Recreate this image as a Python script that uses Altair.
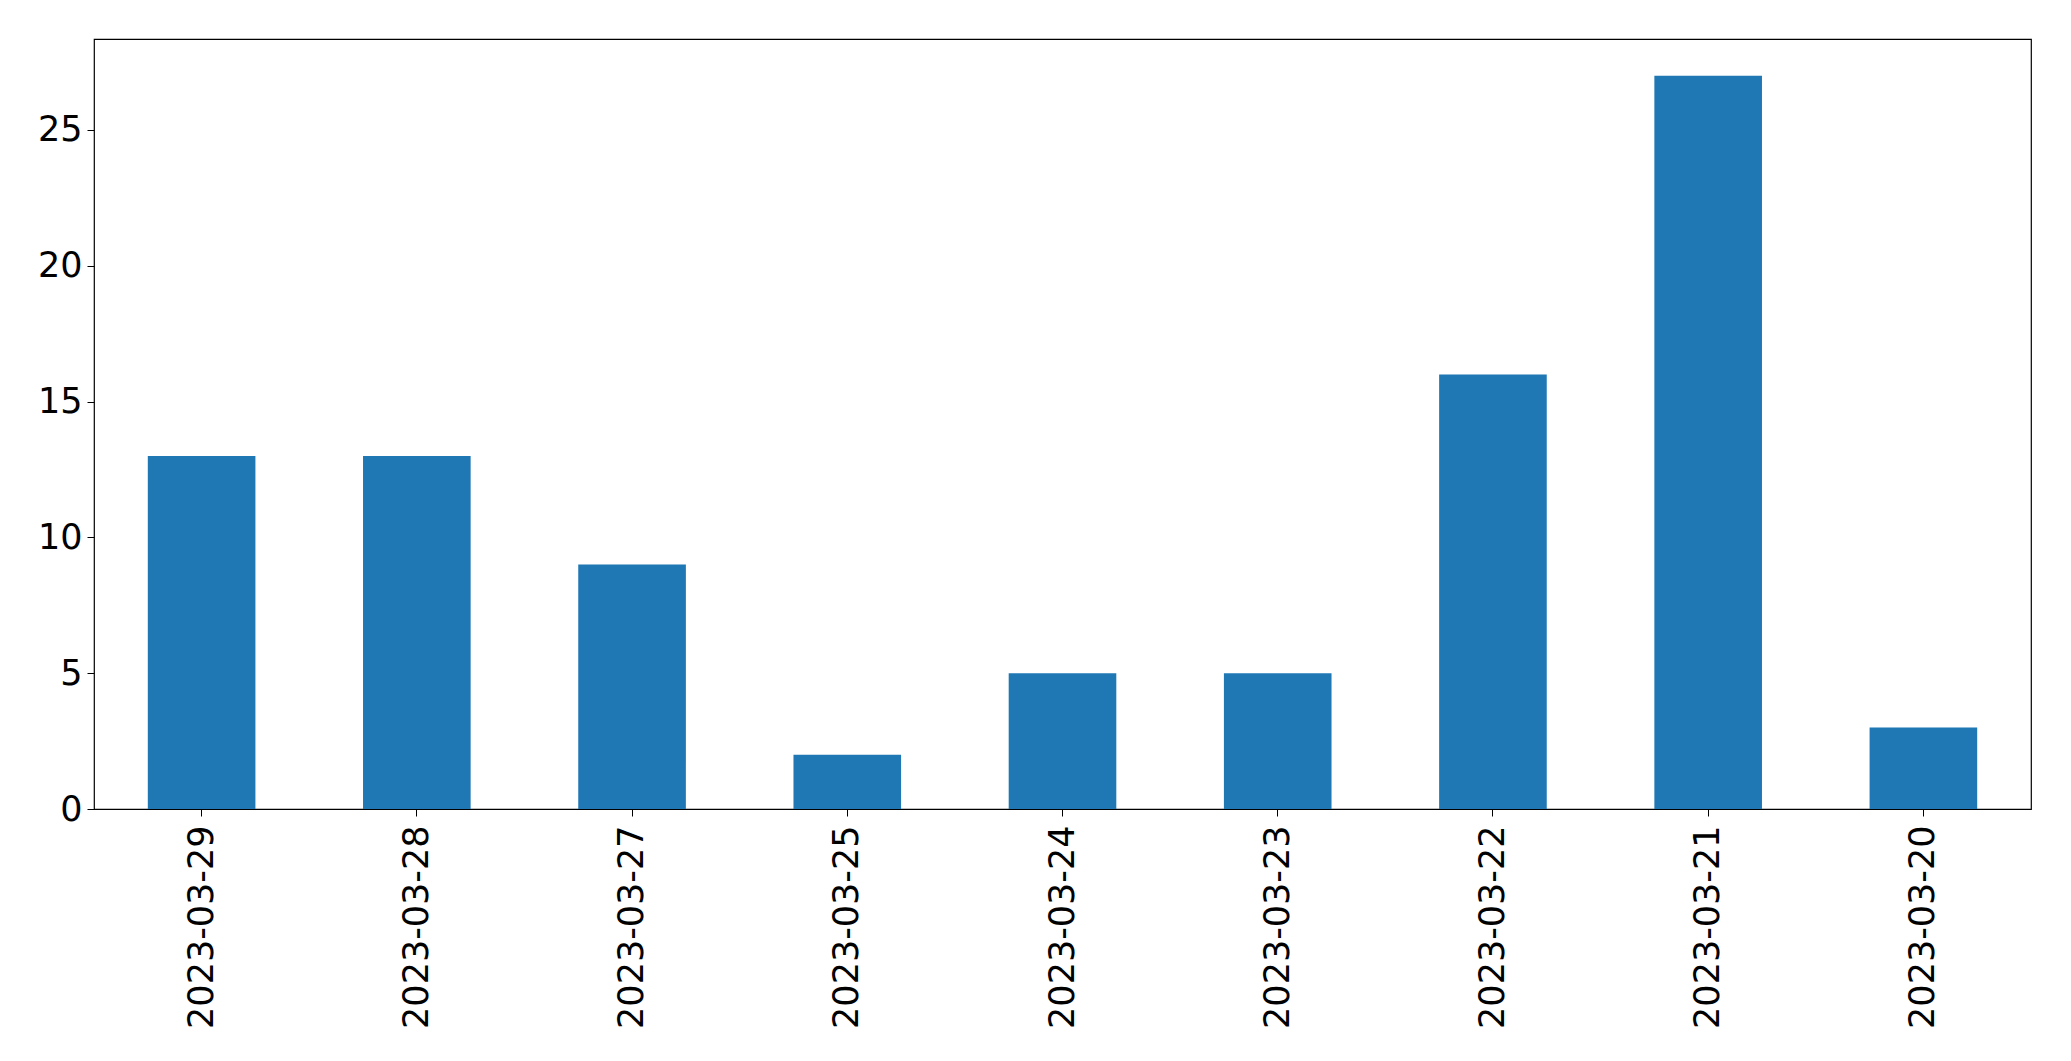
import altair as alt
import pandas as pd

dates = ["2023-03-29", "2023-03-28", "2023-03-27", "2023-03-25", "2023-03-24",
         "2023-03-23", "2023-03-22", "2023-03-21", "2023-03-20"]
counts = [13, 13, 9, 2, 5, 5, 16, 27, 3]
y_ticks = [0, 5, 10, 15, 20, 25]

df = pd.DataFrame({"date": dates, "count": counts})

FONT = "DejaVu Sans"
FS = 35

chart = alt.Chart(df).mark_bar(color="#1f77b4").encode(
    x=alt.X("date:N", sort=dates, title=None,
            scale=alt.Scale(paddingInner=0.5, paddingOuter=0.25),
            axis=alt.Axis(labelAngle=-90, labelFontSize=FS, labelFont=FONT,
                          labelColor="black", tickColor="black", tickSize=7,
                          tickWidth=1, labelPadding=9, labelLimit=0,
                          domain=False, grid=False)),
    y=alt.Y("count:Q", title=None,
            scale=alt.Scale(domain=[0, 28.35], nice=False, zero=True),
            axis=alt.Axis(values=y_ticks, labelFontSize=FS, labelFont=FONT,
                          labelColor="black", tickColor="black", tickSize=7,
                          tickWidth=1, labelPadding=5, labelLimit=0,
                          domain=False, grid=False)),
).properties(
    width=1937, height=770,
    autosize=alt.AutoSizeParams(type="none"),
    padding={"left": 86, "top": 31, "right": 20, "bottom": 240},
).configure_view(stroke="black", strokeWidth=1.2)

chart.save("out.html", embed_options={"renderer": "svg", "actions": False})
